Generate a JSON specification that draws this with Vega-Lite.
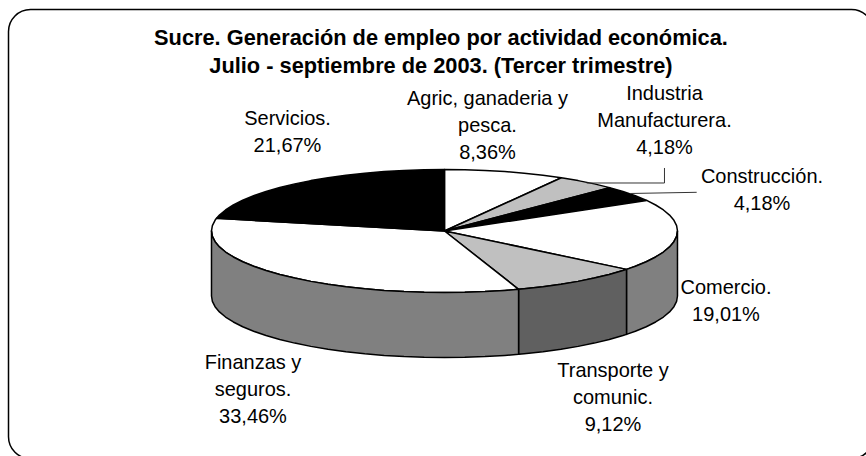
{"$schema":"https://vega.github.io/schema/vega-lite/v6.json","autosize":{"type":"none"},"padding":{"left":8.5,"top":9.5,"right":0,"bottom":0},"width":864.9,"height":449.2,"background":"white","view":{"stroke":"black","strokeWidth":1.5,"cornerRadius":22,"fill":"white"},"title":{"text":["Sucre. Generación de empleo por actividad económica.","Julio - septiembre de 2003. (Tercer trimestre)"],"font":"Liberation Sans","fontSize":21.8,"fontWeight":"bold","lineHeight":27.5,"color":"black","anchor":"middle","frame":"group","baseline":"top","offset":0,"dy":68},"datasets":{"polys":[
{"p":"Agric","x":0,"y":0},{"p":"Agric","x":0,"y":1},{"p":"Agric","x":0.0872,"y":0.9962},{"p":"Agric","x":0.1736,"y":0.9848},{"p":"Agric","x":0.2588,"y":0.9659},{"p":"Agric","x":0.342,"y":0.9397},{"p":"Agric","x":0.4226,"y":0.9063},{"p":"Agric","x":0.5015,"y":0.8652},{"p":"Agric","x":0,"y":0},
{"p":"Industria","x":0,"y":0},{"p":"Industria","x":0.5015,"y":0.8652},{"p":"Industria","x":0.5736,"y":0.8192},{"p":"Industria","x":0.6428,"y":0.766},{"p":"Industria","x":0.7088,"y":0.7054},{"p":"Industria","x":0,"y":0},
{"p":"Construccion","x":0,"y":0},{"p":"Construccion","x":0.7088,"y":0.7054},{"p":"Construccion","x":0.766,"y":0.6428},{"p":"Construccion","x":0.8192,"y":0.5736},{"p":"Construccion","x":0.8679,"y":0.497},{"p":"Construccion","x":0,"y":0},
{"p":"Comercio","x":0,"y":0},{"p":"Comercio","x":0.8679,"y":0.497},{"p":"Comercio","x":0.9063,"y":0.4226},{"p":"Comercio","x":0.9397,"y":0.342},{"p":"Comercio","x":0.9659,"y":0.2588},{"p":"Comercio","x":0.9848,"y":0.1736},{"p":"Comercio","x":0.9962,"y":0.0872},{"p":"Comercio","x":1,"y":0},{"p":"Comercio","x":0.9962,"y":-0.0872},{"p":"Comercio","x":0.9848,"y":-0.1736},{"p":"Comercio","x":0.9659,"y":-0.2588},{"p":"Comercio","x":0.9397,"y":-0.342},{"p":"Comercio","x":0.9063,"y":-0.4226},{"p":"Comercio","x":0.866,"y":-0.5},{"p":"Comercio","x":0.8192,"y":-0.5736},{"p":"Comercio","x":0.7812,"y":-0.6243},{"p":"Comercio","x":0,"y":0},
{"p":"Transporte","x":0,"y":0},{"p":"Transporte","x":0.7812,"y":-0.6243},{"p":"Transporte","x":0.766,"y":-0.6428},{"p":"Transporte","x":0.7071,"y":-0.7071},{"p":"Transporte","x":0.6428,"y":-0.766},{"p":"Transporte","x":0.5736,"y":-0.8192},{"p":"Transporte","x":0.5,"y":-0.866},{"p":"Transporte","x":0.4226,"y":-0.9063},{"p":"Transporte","x":0.342,"y":-0.9397},{"p":"Transporte","x":0.318,"y":-0.9481},{"p":"Transporte","x":0,"y":0},
{"p":"Finanzas","x":0,"y":0},{"p":"Finanzas","x":0.318,"y":-0.9481},{"p":"Finanzas","x":0.2588,"y":-0.9659},{"p":"Finanzas","x":0.1736,"y":-0.9848},{"p":"Finanzas","x":0.0872,"y":-0.9962},{"p":"Finanzas","x":0,"y":-1},{"p":"Finanzas","x":-0.0872,"y":-0.9962},{"p":"Finanzas","x":-0.1736,"y":-0.9848},{"p":"Finanzas","x":-0.2588,"y":-0.9659},{"p":"Finanzas","x":-0.342,"y":-0.9397},{"p":"Finanzas","x":-0.4226,"y":-0.9063},{"p":"Finanzas","x":-0.5,"y":-0.866},{"p":"Finanzas","x":-0.5736,"y":-0.8192},{"p":"Finanzas","x":-0.6428,"y":-0.766},{"p":"Finanzas","x":-0.7071,"y":-0.7071},{"p":"Finanzas","x":-0.766,"y":-0.6428},{"p":"Finanzas","x":-0.8192,"y":-0.5736},{"p":"Finanzas","x":-0.866,"y":-0.5},{"p":"Finanzas","x":-0.9063,"y":-0.4226},{"p":"Finanzas","x":-0.9397,"y":-0.342},{"p":"Finanzas","x":-0.9659,"y":-0.2588},{"p":"Finanzas","x":-0.9848,"y":-0.1736},{"p":"Finanzas","x":-0.9962,"y":-0.0872},{"p":"Finanzas","x":-1,"y":0},{"p":"Finanzas","x":-0.9962,"y":0.0872},{"p":"Finanzas","x":-0.9848,"y":0.1736},{"p":"Finanzas","x":-0.9784,"y":0.2065},{"p":"Finanzas","x":0,"y":0},
{"p":"Servicios","x":0,"y":0},{"p":"Servicios","x":-0.9784,"y":0.2065},{"p":"Servicios","x":-0.9659,"y":0.2588},{"p":"Servicios","x":-0.9397,"y":0.342},{"p":"Servicios","x":-0.9063,"y":0.4226},{"p":"Servicios","x":-0.866,"y":0.5},{"p":"Servicios","x":-0.8192,"y":0.5736},{"p":"Servicios","x":-0.766,"y":0.6428},{"p":"Servicios","x":-0.7071,"y":0.7071},{"p":"Servicios","x":-0.6428,"y":0.766},{"p":"Servicios","x":-0.5736,"y":0.8192},{"p":"Servicios","x":-0.5,"y":0.866},{"p":"Servicios","x":-0.4226,"y":0.9063},{"p":"Servicios","x":-0.342,"y":0.9397},{"p":"Servicios","x":-0.2588,"y":0.9659},{"p":"Servicios","x":-0.1736,"y":0.9848},{"p":"Servicios","x":-0.0872,"y":0.9962},{"p":"Servicios","x":0,"y":1},{"p":"Servicios","x":0,"y":0},
{"p":"Comercio lado","x":1,"y":0},{"p":"Comercio lado","x":0.9962,"y":-0.0872},{"p":"Comercio lado","x":0.9848,"y":-0.1736},{"p":"Comercio lado","x":0.9659,"y":-0.2588},{"p":"Comercio lado","x":0.9397,"y":-0.342},{"p":"Comercio lado","x":0.9063,"y":-0.4226},{"p":"Comercio lado","x":0.866,"y":-0.5},{"p":"Comercio lado","x":0.8192,"y":-0.5736},{"p":"Comercio lado","x":0.7812,"y":-0.6243},{"p":"Comercio lado","x":0.7812,"y":-1.6813},{"p":"Comercio lado","x":0.8192,"y":-1.6306},{"p":"Comercio lado","x":0.866,"y":-1.557},{"p":"Comercio lado","x":0.9063,"y":-1.4796},{"p":"Comercio lado","x":0.9397,"y":-1.399},{"p":"Comercio lado","x":0.9659,"y":-1.3158},{"p":"Comercio lado","x":0.9848,"y":-1.2306},{"p":"Comercio lado","x":0.9962,"y":-1.1442},{"p":"Comercio lado","x":1,"y":-1.057},{"p":"Comercio lado","x":1,"y":0},
{"p":"Transporte lado","x":0.7812,"y":-0.6243},{"p":"Transporte lado","x":0.766,"y":-0.6428},{"p":"Transporte lado","x":0.7071,"y":-0.7071},{"p":"Transporte lado","x":0.6428,"y":-0.766},{"p":"Transporte lado","x":0.5736,"y":-0.8192},{"p":"Transporte lado","x":0.5,"y":-0.866},{"p":"Transporte lado","x":0.4226,"y":-0.9063},{"p":"Transporte lado","x":0.342,"y":-0.9397},{"p":"Transporte lado","x":0.318,"y":-0.9481},{"p":"Transporte lado","x":0.318,"y":-2.0051},{"p":"Transporte lado","x":0.342,"y":-1.9967},{"p":"Transporte lado","x":0.4226,"y":-1.9633},{"p":"Transporte lado","x":0.5,"y":-1.923},{"p":"Transporte lado","x":0.5736,"y":-1.8762},{"p":"Transporte lado","x":0.6428,"y":-1.823},{"p":"Transporte lado","x":0.7071,"y":-1.7641},{"p":"Transporte lado","x":0.766,"y":-1.6998},{"p":"Transporte lado","x":0.7812,"y":-1.6813},{"p":"Transporte lado","x":0.7812,"y":-0.6243},
{"p":"Finanzas lado","x":0.318,"y":-0.9481},{"p":"Finanzas lado","x":0.2588,"y":-0.9659},{"p":"Finanzas lado","x":0.1736,"y":-0.9848},{"p":"Finanzas lado","x":0.0872,"y":-0.9962},{"p":"Finanzas lado","x":0,"y":-1},{"p":"Finanzas lado","x":-0.0872,"y":-0.9962},{"p":"Finanzas lado","x":-0.1736,"y":-0.9848},{"p":"Finanzas lado","x":-0.2588,"y":-0.9659},{"p":"Finanzas lado","x":-0.342,"y":-0.9397},{"p":"Finanzas lado","x":-0.4226,"y":-0.9063},{"p":"Finanzas lado","x":-0.5,"y":-0.866},{"p":"Finanzas lado","x":-0.5736,"y":-0.8192},{"p":"Finanzas lado","x":-0.6428,"y":-0.766},{"p":"Finanzas lado","x":-0.7071,"y":-0.7071},{"p":"Finanzas lado","x":-0.766,"y":-0.6428},{"p":"Finanzas lado","x":-0.8192,"y":-0.5736},{"p":"Finanzas lado","x":-0.866,"y":-0.5},{"p":"Finanzas lado","x":-0.9063,"y":-0.4226},{"p":"Finanzas lado","x":-0.9397,"y":-0.342},{"p":"Finanzas lado","x":-0.9659,"y":-0.2588},{"p":"Finanzas lado","x":-0.9848,"y":-0.1736},{"p":"Finanzas lado","x":-0.9962,"y":-0.0872},{"p":"Finanzas lado","x":-1,"y":0},{"p":"Finanzas lado","x":-1,"y":-1.057},{"p":"Finanzas lado","x":-0.9962,"y":-1.1442},{"p":"Finanzas lado","x":-0.9848,"y":-1.2306},{"p":"Finanzas lado","x":-0.9659,"y":-1.3158},{"p":"Finanzas lado","x":-0.9397,"y":-1.399},{"p":"Finanzas lado","x":-0.9063,"y":-1.4796},{"p":"Finanzas lado","x":-0.866,"y":-1.557},{"p":"Finanzas lado","x":-0.8192,"y":-1.6306},{"p":"Finanzas lado","x":-0.766,"y":-1.6998},{"p":"Finanzas lado","x":-0.7071,"y":-1.7641},{"p":"Finanzas lado","x":-0.6428,"y":-1.823},{"p":"Finanzas lado","x":-0.5736,"y":-1.8762},{"p":"Finanzas lado","x":-0.5,"y":-1.923},{"p":"Finanzas lado","x":-0.4226,"y":-1.9633},{"p":"Finanzas lado","x":-0.342,"y":-1.9967},{"p":"Finanzas lado","x":-0.2588,"y":-2.0229},{"p":"Finanzas lado","x":-0.1736,"y":-2.0418},{"p":"Finanzas lado","x":-0.0872,"y":-2.0532},{"p":"Finanzas lado","x":0,"y":-2.057},{"p":"Finanzas lado","x":0.0872,"y":-2.0532},{"p":"Finanzas lado","x":0.1736,"y":-2.0418},{"p":"Finanzas lado","x":0.2588,"y":-2.0229},{"p":"Finanzas lado","x":0.318,"y":-2.0051},{"p":"Finanzas lado","x":0.318,"y":-0.9481}
],"leaders":[
{"l":"Industria","x":0.9442,"y":1.0244},{"l":"Industria","x":0.9442,"y":0.7805},{"l":"Industria","x":0.61,"y":0.7805},
{"l":"Construccion","x":1.0824,"y":0.629},{"l":"Construccion","x":0.7955,"y":0.6098}
],"labels":[
{"label":"Servicios.\n21,67%","x":-0.6738,"y":1.813},
{"label":"Agric, ganaderia y\npesca.\n8,36%","x":0.1845,"y":2.1463},
{"label":"Industria\nManufacturera.\n4,18%","x":0.9442,"y":2.2276},
{"label":"Construcción.\n4,18%","x":1.3627,"y":0.878},
{"label":"Comercio.\n19,01%","x":1.2082,"y":-0.9269},
{"label":"Transporte y\ncomunic.\n9,12%","x":0.7232,"y":-2.2764},
{"label":"Finanzas y\nseguros.\n33,46%","x":-0.8219,"y":-2.1464}
]},"encoding":{"x":{"field":"x","type":"quantitative","axis":null,"scale":{"domain":[-1.8712,1.8408],"nice":false,"zero":false}},"y":{"field":"y","type":"quantitative","axis":null,"scale":{"domain":[-3.7024,3.6016],"nice":false,"zero":false}}},"layer":[
{"data":{"name":"polys"},"transform":[{"window":[{"op":"row_number","as":"o"}]}],"mark":{"type":"line","stroke":"black","strokeWidth":1.5,"strokeJoin":"round"},"encoding":{"detail":{"field":"p"},"order":{"field":"o","type":"quantitative"},"fill":{"field":"p","type":"nominal","legend":null,"scale":{"domain":["Agric","Industria","Construccion","Comercio","Transporte","Finanzas","Servicios","Comercio lado","Transporte lado","Finanzas lado"],"range":["#ffffff","#c0c0c0","#000000","#ffffff","#c0c0c0","#ffffff","#000000","#808080","#606060","#808080"]}}}},
{"data":{"name":"leaders"},"transform":[{"window":[{"op":"row_number","as":"o"}]}],"mark":{"type":"line","stroke":"#333333","strokeWidth":1},"encoding":{"detail":{"field":"l"},"order":{"field":"o","type":"quantitative"}}},
{"data":{"name":"labels"},"mark":{"type":"text","font":"Liberation Sans","fontSize":20,"lineHeight":27,"lineBreak":"\n","align":"center","baseline":"middle","color":"black"},"encoding":{"text":{"field":"label"}}}
]}
